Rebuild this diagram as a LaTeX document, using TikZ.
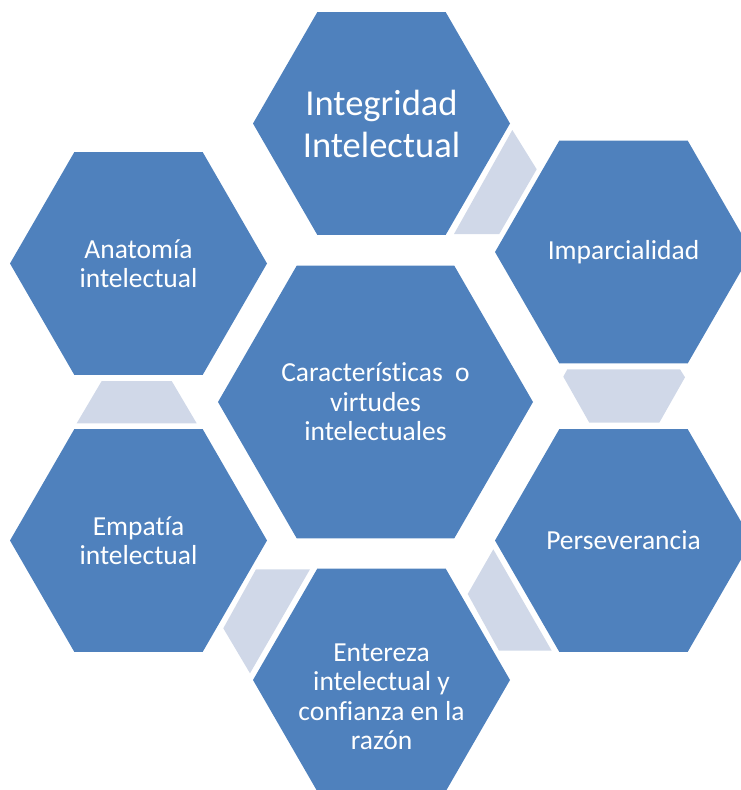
\documentclass[tikz,border=0pt]{standalone}
\usepackage{fontspec}
\setmainfont[Ligatures=NoCommon]{Carlito}
\usetikzlibrary{shapes.geometric}
\definecolor{hexblue}{RGB}{79,129,189}
\definecolor{linkgray}{RGB}{208,216,232}
\tikzset{
  hexa/.style = {regular polygon, regular polygon sides=6, fill=hexblue,
                 minimum size=257pt, inner sep=0pt, text=white, align=center,
                 font=\fontsize{27.5}{29.5}\selectfont},
  hexlabel/.style = {text=white, align=center, font=\fontsize{27.5}{29.5}\selectfont},
  link/.style = {fill=linkgray}
}
\begin{document}
\begin{tikzpicture}[x=1pt, y=-1pt]
        \useasboundingbox (0,0) rectangle (741,790);
        \clip (0,0) rectangle (741,790);
        \node[hexa, font=\fontsize{36.5}{42}\selectfont] (integridad) at (381.5,123.5) {Integridad\\Intelectual};
        \node[hexa]                                  (imparcialidad) at (623.5,252)   {Imparcialidad};
        \node[hexa]                                  (perseverancia) at (623.5,540.5) {Perseverancia};
        \node[hexa]                                  (entereza)      at (381.5,680)   {};
        \node[hexa]                                  (empatia)       at (138.5,540.5) {Empatía\\intelectual};
        \node[hexa]                                  (anatomia)      at (138.5,263.5) {Anatomía\\intelectual};
        \node[hexa, minimum size=315pt]              (virtudes)      at (375.5,402)   {Características~~o\\virtudes\\intelectuales};
        \node[hexlabel] (entereza text) at (381.5,697) {Entereza\\intelectual y\\confianza en la\\razón};
        \fill[link] (512.3,130) -- (536.7,169.3) -- (499.3,234) -- (454,234) -- cycle;
        \fill[link] (567.3,369.3) -- (680,369.3) -- (685,377.3) -- (659.3,422.7)
                    -- (589.3,422.7) -- (563.3,376.7) -- cycle;
        \fill[link] (493.3,549.3) -- (551.7,650.7) -- (499,650.7) -- (467.7,594) -- cycle;
        \fill[link] (256,569.3) -- (310,569.3) -- (250,673.3) -- (223.3,628.3) -- cycle;
        \fill[link] (101.7,381) -- (171.7,381) -- (196.7,423.3) -- (76.7,423.3) -- cycle;
      \end{tikzpicture}
\end{document}
